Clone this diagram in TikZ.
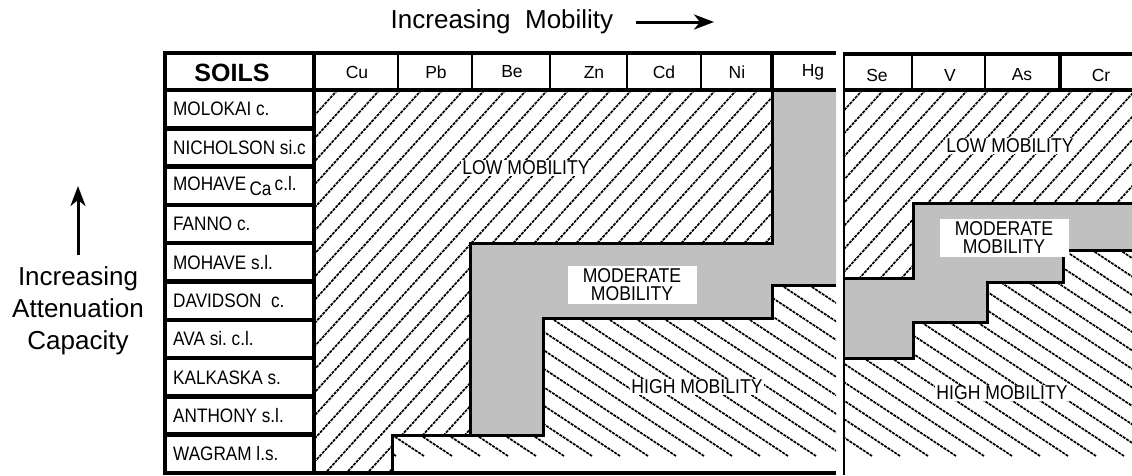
\documentclass[tikz,border=0pt]{standalone}
\usepackage{fontspec}
\setmainfont{Liberation Sans}
\newfontfamily\narrowfont[FakeStretch=0.88]{Liberation Sans}
\usetikzlibrary{arrows.meta}
\definecolor{modgray}{RGB}{192,192,192}

\tikzset{
  tablerule/.style={line width=4.5pt},
  cellrule/.style={line width=2.5pt},
  zoneedge/.style={line width=3pt, line join=miter},
  hatchline/.style={line width=1.7pt, dash pattern=on 3pt off 1pt},
  soil/.style={anchor=west, inner sep=0pt, font=\narrowfont\fontsize{19.5}{20}\selectfont},
  metal/.style={font=\fontsize{17.5}{18}\selectfont},
  zone/.style={fill=white, inner sep=1pt, font=\narrowfont\fontsize{20}{20}\selectfont},
  modbox/.style={fill=white, inner sep=0pt, minimum width=129pt, minimum height=38pt, align=center,
    font=\narrowfont\fontsize{20}{18}\selectfont},
  bigtext/.style={align=center, font=\fontsize{26}{32}\selectfont},
  bigarrow/.style={line width=3pt, -{Stealth[length=20pt,width=15pt,inset=6pt]}}
}

\begin{document}
\begin{tikzpicture}[x=1pt,y=-1pt]
  \useasboundingbox (0,0) rectangle (1132,475);
  \fill[white] (0,0) rectangle (1132,475);

  % moderate zones
  \fill[modgray] (772,92) -- (836,92) -- (836,285) -- (772,285) -- (772,318) -- (543,318)
    -- (543,435) -- (470,435) -- (470,243) -- (772,243) -- cycle;
  \fill[modgray] (913,203) -- (1132,203) -- (1132,250) -- (1063,250) -- (1063,282) -- (987,282)
    -- (987,322) -- (913,322) -- (913,358) -- (844,358) -- (844,278) -- (913,278) -- cycle;

  % low zones
  \begin{scope}
    \clip (315,92) -- (772,92) -- (772,243) -- (470,243) -- (470,435) -- (392,435) -- (392,473) -- (315,473) -- cycle
          (844,92) -- (1132,92) -- (1132,203) -- (913,203) -- (913,278) -- (844,278) -- cycle;
    \foreach \x in {-80,-59,...,1140}
      \draw[hatchline] (\x,480) -- ++(380,-418);
  \end{scope}

  % high zones
  \begin{scope}
    \clip (836,285) -- (836,473) -- (392,473) -- (392,435) -- (543,435) -- (543,318) -- (772,318) -- (772,285) -- cycle
          (844,358) -- (913,358) -- (913,322) -- (987,322) -- (987,282) -- (1063,282) -- (1063,250) -- (1132,250)
          -- (1132,475) -- (844,475) -- cycle;
    \foreach \x in {-260,-232,...,1140}
      \draw[hatchline] (\x,60) -- ++(600,396);
  \end{scope}

  \draw[zoneedge] (772,92) -- (772,243) -- (470,243) -- (470,435) -- (392,435) -- (392,473);
  \draw[zoneedge] (836,285) -- (772,285) -- (772,318) -- (543,318) -- (543,435) -- (392,435);
  \draw[zoneedge] (1132,203) -- (913,203) -- (913,278) -- (844,278);
  \draw[zoneedge] (844,358) -- (913,358) -- (913,322) -- (987,322) -- (987,282) -- (1063,282) -- (1063,250) -- (1132,250);

  % left table
  \draw[tablerule] (836,53) -- (165,53) -- (165,473) -- (836,473);
  \draw[tablerule] (314,53) -- (314,473);
  \draw[tablerule] (165,90) -- (836,90);
  \foreach \k in {1,...,9}
    \draw[tablerule] (165,90+38.3*\k) -- (314,90+38.3*\k);
  \foreach \x in {398,472,550,627,701}
    \draw[cellrule] (\x,53) -- (\x,90);
  \draw[tablerule] (772,53) -- (772,92);

  % right table
  \draw[tablerule] (843,54) -- (1132,54);
  \draw[cellrule] (844,52) -- (844,475);
  \draw[tablerule] (844,90) -- (1132,90);
  \foreach \x in {912,985}
    \draw[cellrule] (\x,54) -- (\x,90);
  \draw[tablerule] (1060,54) -- (1060,90);

  \node[font=\bfseries\fontsize{25}{25}\selectfont] (soilshead) at (232,73) {SOILS};
  \foreach \nm/\txt/\x in {cu/Cu/357, pb/Pb/436, be/Be/512, zn/Zn/594, cd/Cd/664, ni/Ni/737, hg/Hg/813}
    \node[metal] (\nm) at (\x,72) {\txt};
  \foreach \nm/\txt/\x in {se/Se/877, v/V/950, as/As/1022, cr/Cr/1101}
    \node[metal] (\nm) at (\x,75) {\txt};

  \foreach \nm/\txt [count=\i from 0] in {molokai/MOLOKAI c., nicholson/NICHOLSON si.c,
      mohaveca/{MOHAVE\,\raisebox{-0.45ex}{Ca}\,c.l.}, fanno/FANNO c., mohavesl/MOHAVE s.l.,
      davidson/DAVIDSON\ \ c., ava/AVA si.\ c.l., kalkaska/KALKASKA s., anthony/ANTHONY s.l.,
      wagram/WAGRAM l.s.}
    \node[soil] (\nm) at (173,109.2+38.3*\i) {\txt};

  \node[zone] (lowL) at (526,168) {LOW MOBILITY};
  \node[modbox] (modL) at (632,285) {MODERATE\\MOBILITY};
  \node[zone] (highL) at (697,387) {HIGH MOBILITY};
  \node[zone] (lowR) at (1010,146) {LOW MOBILITY};
  \node[modbox] (modR) at (1004,238) {MODERATE\\MOBILITY};
  \node[zone] (highR) at (1002,393) {HIGH MOBILITY};

  % axis labels
  \node[bigtext] (mobtxt) at (502,22) {Increasing\ \ Mobility};
  \coordinate (mobtail) at (636,22);
  \coordinate (mobtip) at (714,22);
  \draw[bigarrow] (mobtail) -- (mobtip);
  \node[bigtext] (atttxt) at (78,311) {Increasing\\Attenuation\\Capacity};
  \coordinate (atttip) at (78,186);
  \draw[bigarrow] ([yshift=8pt]atttxt.north) -- (atttip);
\end{tikzpicture}
\end{document}
